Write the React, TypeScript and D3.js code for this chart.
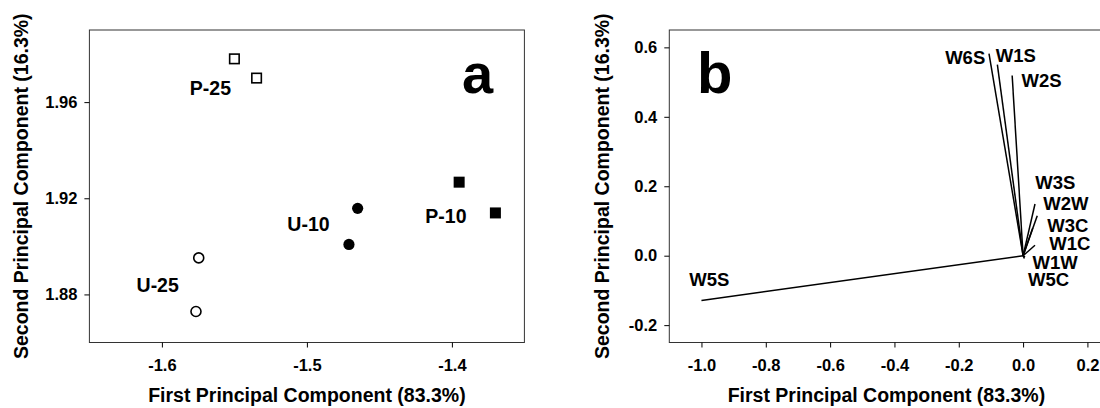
import React, { useEffect, useRef } from 'react'
import * as d3 from 'd3'

// panel a: PCA scores of the samples (two replicates per group)
const groups = ['P-25', 'P-10', 'U-10', 'U-25']
const groupShape = ['openSquare', 'square', 'circle', 'openCircle']
const scoreX = [[-1.550, -1.5347], [-1.395, -1.370], [-1.465, -1.471], [-1.5746, -1.5765]]
const scoreY = [[1.978, 1.970], [1.9267, 1.9139], [1.9158, 1.9008], [1.8952, 1.8729]]
const groupLabelX = [-1.5665, -1.4041, -1.4989, -1.6029]
const groupLabelY = [1.9629, 1.9099, 1.9064, 1.8810]
const ticksAx = [-1.6, -1.5, -1.4]
const ticksAy = [1.88, 1.92, 1.96]

// panel b: loadings of the sensors
const sensors = ['W6S', 'W1S', 'W2S', 'W3S', 'W2W', 'W3C', 'W1C', 'W1W', 'W5C', 'W5S']
const loadX = [-0.106, -0.080, -0.034, 0.037, 0.044, 0.030, 0.037, 0.006, 0.004, -1.0]
const loadY = [0.582, 0.550, 0.519, 0.149, 0.115, 0.080, 0.030, -0.004, -0.008, -0.129]
const sensorLabelX = [-0.2424, -0.0849, -0.005, 0.038, 0.0628, 0.0752, 0.0815, 0.0292, 0.0155, -1.0376]
const sensorLabelY = [0.553, 0.5575, 0.4858, 0.1914, 0.132, 0.068, 0.0175, -0.0373, -0.0861, -0.0881]
const ticksBx = [-1.0, -0.8, -0.6, -0.4, -0.2, 0.0, 0.2]
const ticksBy = [-0.2, 0.0, 0.2, 0.4, 0.6]

const xTitle = 'First Principal Component (83.3%)'
const yTitle = 'Second Principal Component (16.3%)'
const FONT = '"Liberation Sans", Arial, sans-serif'

export default function App() {
  const ref = useRef<SVGSVGElement>(null)

  useEffect(() => {
    const svg = d3.select(ref.current)
    svg.selectAll('*').remove()

    const top = 30, bottom = 342.5

    function frame(x, y, tx, ty, fmtX, fmtY, titleYx) {
      const g = svg.append('g')
      const [x0, x1] = x.range()
      g.append('rect')
        .attr('x', x0).attr('y', top)
        .attr('width', x1 - x0).attr('height', bottom - top)
        .attr('fill', 'none').attr('stroke', '#333').attr('stroke-width', 1)

      const ax = g.append('g')
        .attr('transform', 'translate(0,' + bottom + ')')
        .call(d3.axisBottom(x).tickValues(tx).tickSize(5).tickSizeOuter(0).tickPadding(12).tickFormat(fmtX))
      const ay = g.append('g')
        .attr('transform', 'translate(' + x0 + ',0)')
        .call(d3.axisLeft(y).tickValues(ty).tickSize(5).tickSizeOuter(0).tickPadding(7).tickFormat(fmtY))
      for (const a of [ax, ay]) {
        a.select('.domain').remove()
        a.attr('font-family', FONT).attr('font-size', 16.5).attr('font-weight', 'bold')
        a.selectAll('line').attr('stroke', '#000')
      }

      g.append('text')
        .attr('x', (x0 + Math.min(x1, 1104)) / 2).attr('y', 402)
        .attr('text-anchor', 'middle')
        .attr('font-family', FONT).attr('font-size', 19.5).attr('font-weight', 'bold')
        .text(xTitle)
      g.append('text')
        .attr('transform', 'translate(' + titleYx + ',' + (top + bottom) / 2 + ') rotate(-90)')
        .attr('text-anchor', 'middle')
        .attr('font-family', FONT).attr('font-size', 19.5).attr('font-weight', 'bold')
        .text(yTitle)
      return g
    }

    // ---- panel a
    const xA = d3.scaleLinear().domain([-1.65, -1.35]).range([89.4, 524.4])
    const yA = d3.scaleLinear().domain([1.86, 1.99]).range([bottom, top])
    const gA = frame(xA, yA, ticksAx, ticksAy, d => d.toFixed(1), d => d.toFixed(2), 27.5)

    groups.forEach((name, i) => {
      const shape = groupShape[i]
      scoreX[i].forEach((sx, j) => {
        const cx = xA(sx), cy = yA(scoreY[i][j])
        const filled = shape === 'square' || shape === 'circle'
        if (shape.toLowerCase().includes('square')) {
          const s = filled ? 11 : 9.5
          gA.append('rect')
            .attr('x', cx - s / 2).attr('y', cy - s / 2)
            .attr('width', s).attr('height', s)
            .attr('fill', filled ? '#000' : '#fff')
            .attr('stroke', '#000').attr('stroke-width', filled ? 0 : 1.6)
        } else {
          gA.append('circle')
            .attr('cx', cx).attr('cy', cy)
            .attr('r', filled ? 5.6 : 5)
            .attr('fill', filled ? '#000' : '#fff')
            .attr('stroke', '#000').attr('stroke-width', filled ? 0 : 1.6)
        }
      })
      gA.append('text')
        .attr('x', xA(groupLabelX[i])).attr('y', yA(groupLabelY[i]))
        .attr('text-anchor', 'middle')
        .attr('font-family', FONT).attr('font-size', 19.5).attr('font-weight', 'bold')
        .text(name)
    })
    gA.append('text')
      .attr('x', 462).attr('y', 93)
      .attr('font-family', FONT).attr('font-size', 56).attr('font-weight', 'bold')
      .text('a')

    // ---- panel b
    const xB = d3.scaleLinear().domain([-1.1, 0.25]).range([669.3, 1103.5])
    const yB = d3.scaleLinear().domain([-0.25, 0.65]).range([bottom, top])
    const gB = frame(xB, yB, ticksBx, ticksBy, d => d.toFixed(1), d => d.toFixed(1), 609)

    sensors.forEach((name, i) => {
      gB.append('line')
        .attr('x1', xB(0)).attr('y1', yB(0))
        .attr('x2', xB(loadX[i])).attr('y2', yB(loadY[i]))
        .attr('stroke', '#000').attr('stroke-width', 1.5)
      gB.append('text')
        .attr('x', xB(sensorLabelX[i])).attr('y', yB(sensorLabelY[i]))
        .attr('font-family', FONT).attr('font-size', 18.5).attr('font-weight', 'bold')
        .text(name)
    })
    gB.append('text')
      .attr('x', 697).attr('y', 93)
      .attr('font-family', FONT).attr('font-size', 58).attr('font-weight', 'bold')
      .text('b')
  }, [])

  return (
    <svg ref={ref} width={1100} height={408}
      style={{ position: 'absolute', left: 0, top: 0, background: '#fff' }} />
  )
}
